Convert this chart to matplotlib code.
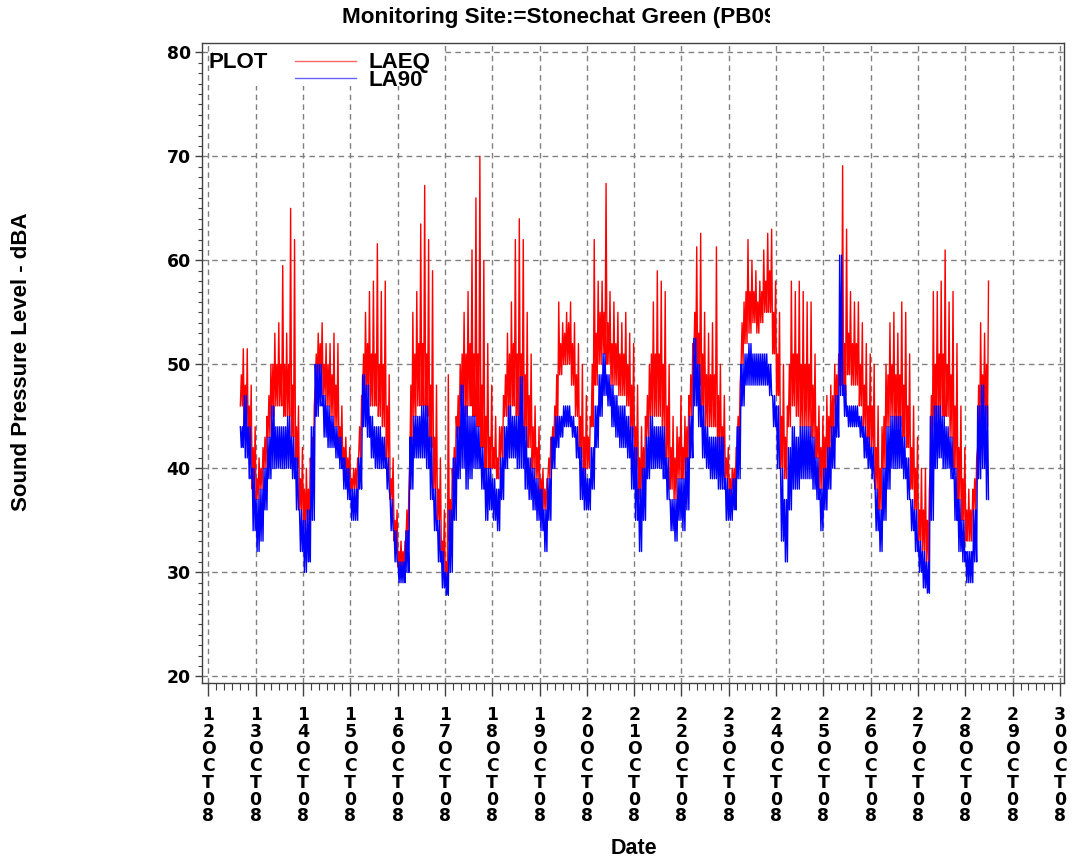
import numpy as np
import matplotlib
matplotlib.use('Agg')
import matplotlib.pyplot as plt
from matplotlib.ticker import MultipleLocator, FixedLocator
from matplotlib.transforms import Bbox, TransformedBbox
from matplotlib.patches import Rectangle

plt.rcParams['font.family'] = ['Liberation Sans', 'DejaVu Sans']
plt.rcParams['font.weight'] = 'bold'

# ---------------- data: 2-hour blocks, starting 12 Oct 2008 16:00 ----------------
# per block: bottom of the trace (lo), top of the dense band (mid), block extreme (hi)
START_HOUR = 16
laeq_lo = [
    46, 44, 42, 38,                                              # 12 Oct 16-24h
    37, 38, 40, 43, 45, 46, 46, 45, 45, 43, 40, 36,              # 13 Oct
    34, 35, 39, 48, 49, 47, 46, 45, 44, 42, 40, 39,              # 14 Oct
    38, 38, 41, 47, 47, 46, 46, 45, 44, 41, 37, 33,              # 15 Oct
    30.5, 30.5, 33, 41, 45, 46, 46, 45, 42, 38, 35, 31,          # 16 Oct
    29, 33, 38, 43, 46, 45, 46, 45, 44, 42, 40, 40,              # 17 Oct
    40, 39, 41, 45, 45, 46, 45, 45, 43, 42, 40, 39,              # 18 Oct
    37, 36, 39, 42, 44, 49, 50, 50, 48, 45, 41, 39,              # 19 Oct
    40, 44, 48, 50, 51, 50, 48, 48, 47, 47, 46, 43,              # 20 Oct
    40, 37, 38, 43, 45, 45, 45, 44, 41, 38, 37, 39,              # 21 Oct
    39, 40, 45, 50, 48, 46, 44, 44, 44, 42, 41, 39,              # 22 Oct
    37, 38, 42, 50, 52, 53, 54, 53, 54, 55, 55, 51,              # 23 Oct
    47, 40, 39, 44, 46, 45, 44, 44, 44, 43, 41, 38,              # 24 Oct
    39, 41, 43, 46, 48, 47, 49, 48, 48, 46, 44, 42,              # 25 Oct
    42, 38, 36, 40, 44, 45, 44, 44, 43, 42, 38, 36,              # 26 Oct
    33, 32, 31, 40, 44, 45, 45, 45, 43, 40, 37, 35,              # 27 Oct
    33, 33, 36, 42, 45, 44,                                      # 28 Oct 0-12h
]
laeq_mid = [
    49, 48, 46, 42,
    39, 40, 43, 47, 50, 50, 50, 50, 50, 48, 44, 39,
    38, 38, 43, 51, 52, 50, 50, 49, 48, 44, 42, 41,
    39, 40, 44, 51, 52, 51, 51, 50, 50, 46, 39, 35,
    32, 32, 36, 48, 51, 52, 52, 51, 48, 43, 38, 33,
    31, 37, 42, 47, 51, 51, 52, 51, 51, 48, 45, 43,
    42, 41, 44, 49, 51, 52, 51, 51, 49, 47, 44, 42,
    39, 38, 41, 44, 49, 52, 53, 54, 52, 49, 45, 43,
    43, 50, 53, 55, 55, 54, 52, 52, 51, 51, 50, 48,
    44, 41, 42, 47, 51, 51, 51, 50, 46, 42, 41, 43,
    42, 44, 49, 55, 53, 51, 49, 49, 49, 47, 44, 41,
    39, 40, 45, 54, 57, 57, 57, 56, 57, 58, 59, 55,
    51, 45, 43, 50, 51, 51, 50, 50, 50, 48, 44, 42,
    43, 45, 47, 49, 53, 52, 53, 52, 52, 50, 48, 46,
    46, 42, 40, 45, 49, 50, 49, 49, 48, 46, 42, 40,
    36, 36, 35, 47, 50, 51, 51, 50, 49, 46, 42, 39,
    36, 36, 39, 48, 49, 50,
]
laeq_hi = [
    51.5, 51.5, 48, 44,
    41, 42, 45, 50, 53, 54, 59.5, 53, 65, 62, 46, 42,
    40, 41, 46, 53, 54, 52, 52, 53, 52, 46, 43, 42,
    40, 41, 47, 55, 57, 58, 61.6, 57, 58, 49, 41, 36,
    33, 33, 38, 55, 57, 63.5, 67.2, 62, 59, 48, 41, 36,
    49, 40, 45, 50, 55, 57, 61, 66, 70, 60, 52, 48,
    45, 44, 47, 53, 56, 62, 64, 62, 55, 51, 46, 44,
    40, 39, 43, 46, 56, 54, 55, 56, 54, 52, 50, 47,
    45, 62, 58, 58, 67.4, 57, 56, 55, 54, 55, 53, 52,
    48, 44, 45, 50, 56, 59, 58, 57, 50, 45, 44, 47,
    45, 47, 52, 61.3, 62.6, 55, 53, 54, 61.3, 50, 47, 42,
    40, 42, 48, 56, 62, 60, 59, 58, 61, 62.6, 63, 58,
    55, 50, 46, 58, 57, 58, 57, 56, 56, 51, 46, 45,
    47, 48, 50, 51, 69.1, 63, 57, 56, 56, 54, 52, 51,
    50, 46, 44, 50, 54, 55, 53, 56, 55, 51, 46, 43,
    40, 40, 38, 57, 57, 58, 61, 56, 57, 52, 46, 42,
    38, 38, 41, 54, 53, 58,
]
la90_lo = [
    42, 41, 39, 34,
    32, 33, 36, 39, 40, 40, 40, 40, 40, 39, 36, 32,
    30, 31, 35, 45, 46, 43, 42, 42, 41, 40, 38, 37,
    35, 35, 38, 44, 43, 41, 40, 40, 40, 38, 34, 31,
    29, 29, 30, 38, 41, 41, 41, 40, 37, 34, 31, 28.5,
    27.8, 30, 35, 39, 40, 38, 39, 40, 40, 38, 35, 36,
    35, 34, 37, 40, 41, 41, 40, 40, 38, 37, 36, 35,
    34, 32, 35, 40, 42, 43, 44, 44, 43, 41, 37, 36,
    36, 38, 42, 45, 47, 46, 44, 43, 42, 42, 41, 38,
    35, 32, 35, 39, 40, 40, 40, 39, 37, 34, 33, 35,
    34, 36, 41, 46, 44, 41, 40, 39, 39, 38, 38, 35,
    35, 36, 39, 46, 48, 48, 48, 48, 48, 48, 47, 44,
    40, 33, 31, 36, 38, 38, 39, 39, 39, 38, 37, 34,
    36, 38, 40, 43, 47, 45, 44, 44, 44, 43, 41, 40,
    39, 34, 32, 35, 38, 40, 40, 40, 39, 37, 34, 32,
    30, 28.5, 28, 35, 40, 41, 40, 40, 39, 35, 32, 31,
    29, 29, 31, 39, 40, 37,
]
la90_hi = [
    44, 47, 44, 40,
    37, 38, 40, 43, 46, 44, 44, 44, 45, 43, 41, 36,
    35, 36, 44, 50, 50, 47, 46, 45, 44, 43, 41, 40,
    38, 38, 41, 49, 48, 45, 44, 44, 43, 41, 37, 34,
    31, 31, 34, 43, 45, 45, 46, 46, 43, 38, 35, 32,
    30, 36, 41, 44, 48, 46, 45, 45, 44, 42, 40, 40,
    39, 38, 41, 44, 46, 45, 45, 48.8, 44, 41, 40, 39,
    38, 36, 39, 43, 45, 45, 46, 46, 45, 44, 42, 40,
    39, 42, 46, 49, 51, 49, 48, 47, 46, 46, 45, 44,
    42, 38, 40, 43, 45, 44, 44, 44, 41, 37, 37, 39,
    39, 41, 45, 52.5, 50, 46, 44, 43, 43, 43, 43, 39,
    38, 39, 44, 50, 51, 52, 51, 51, 51, 51, 50, 47,
    46, 40, 37, 42, 44, 43, 44, 44, 44, 43, 41, 38,
    40, 42, 44, 47, 60.5, 48, 46, 46, 46, 45, 44, 43,
    42, 38, 36, 40, 44, 45, 45, 45, 43, 41, 37, 36,
    33, 32, 31, 45, 46, 46, 45, 44, 43, 40, 37, 35,
    32, 32, 36, 46, 48, 46,
]
day_labels = [str(d) + 'OCT08' for d in range(12, 31)]
series_names = ['LAEQ', 'LA90']
title = 'Monitoring Site:=Stonechat Green (PB09'

# ---------------- build time axis (days since 12 Oct 00:00) ----------------
n = len(laeq_lo)
blk = START_HOUR + 2 * np.arange(n)
t = np.empty(4 * n)
for k, off in enumerate([0.25, 0.75, 1.25, 1.75]):
    t[k::4] = (blk + off) / 24.0
yq = np.empty(4 * n)
yq[0::4] = laeq_lo; yq[1::4] = laeq_mid; yq[2::4] = laeq_lo; yq[3::4] = laeq_hi
y9 = np.empty(4 * n)
y9[0::4] = la90_hi; y9[1::4] = la90_lo; y9[2::4] = la90_hi; y9[3::4] = la90_lo

# ---------------- figure ----------------
W, H = 1072, 864
fig = plt.figure(figsize=(W / 100, H / 100), dpi=100)
L, R, T, B = 202.3, 1064.0, 43.3, 683.3
ax = fig.add_axes([L / W, 1 - B / H, (R - L) / W, (B - T) / H])

ax.plot(t, yq, color='#ff0000', lw=1.0, zorder=3)
ax.plot(t, y9, color='#0000ff', lw=1.0, zorder=4)

ax.set_xlim(-0.127, 18.085)
ax.set_ylim(19.33, 80.87)

TICKFONT = ['DejaVu Sans']
ax.xaxis.set_major_locator(FixedLocator(np.arange(0, 19)))
ax.xaxis.set_minor_locator(MultipleLocator(1 / 6))
ax.set_xticklabels(['\n'.join(s) for s in day_labels], fontsize=12.4, family=TICKFONT,
                   fontweight='bold', linespacing=0.92, va='top')
ax.yaxis.set_major_locator(MultipleLocator(10))
ax.yaxis.set_minor_locator(MultipleLocator(1))
ax.tick_params(axis='y', which='major', length=5, width=1, labelsize=12.4, pad=3.3, direction='out', color='#404040')
ax.tick_params(axis='y', which='minor', length=3, width=0.8, direction='out', color='#404040')
ax.tick_params(axis='x', which='major', length=9, width=1, pad=7.5, direction='out', color='#404040')
ax.tick_params(axis='x', which='minor', length=5, width=0.8, direction='out', color='#404040')
for lab in ax.get_yticklabels():
    lab.set_fontweight('bold')
    lab.set_family(TICKFONT)

ax.set_axisbelow(True)
ax.grid(True, which='major', color='#808080', linestyle=(0, (4, 3)), linewidth=1)
for sp in ax.spines.values():
    sp.set_color('#404040')
    sp.set_linewidth(1)

def ax_xy(px, py):
    return (px - L) / (R - L), (B - py) / (B - T)

# legend area (white box over the grid)
x0, y0 = ax_xy(213, 86)
x1, y1 = ax_xy(443, 43.3)
ax.add_patch(Rectangle((x0, y0), x1 - x0, y1 - y0, transform=ax.transAxes,
                       facecolor='white', edgecolor='none', zorder=1))
px, py = ax_xy(209, 62.5)
ax.text(px, py, 'PLOT', transform=ax.transAxes, fontsize=16, fontweight='bold',
        ha='left', va='center', zorder=5)
for name, col, yy, ty in [(series_names[0], '#ff0000', 61, 62.5), (series_names[1], '#0000ff', 78, 80)]:
    a, b = ax_xy(295, yy)
    c, _ = ax_xy(356, yy)
    ax.plot([a, c], [b, b], transform=ax.transAxes, color=col, lw=1, alpha=0.6, zorder=5)
    tx, tyy = ax_xy(368, ty)
    ax.text(tx, tyy, name, transform=ax.transAxes, fontsize=16, fontweight='bold',
            ha='left', va='center', zorder=5)

fig.text(22 / W, 1 - 362 / H, 'Sound Pressure Level - dBA', rotation=90,
         fontsize=16, fontweight='bold', ha='center', va='center')
fig.text(634 / W, 1 - 848 / H, 'Date', fontsize=15.5, fontweight='bold',
         ha='center', va='center')
tt = fig.text(342 / W, 1 - 18 / H, title, fontsize=16.2, fontweight='bold',
              ha='left', va='center')
tt.set_clip_box(TransformedBbox(Bbox([[0, 0], [770 / W, 1]]), fig.transFigure))
tt.set_clip_on(True)

fig.savefig('out.png', dpi=100)
